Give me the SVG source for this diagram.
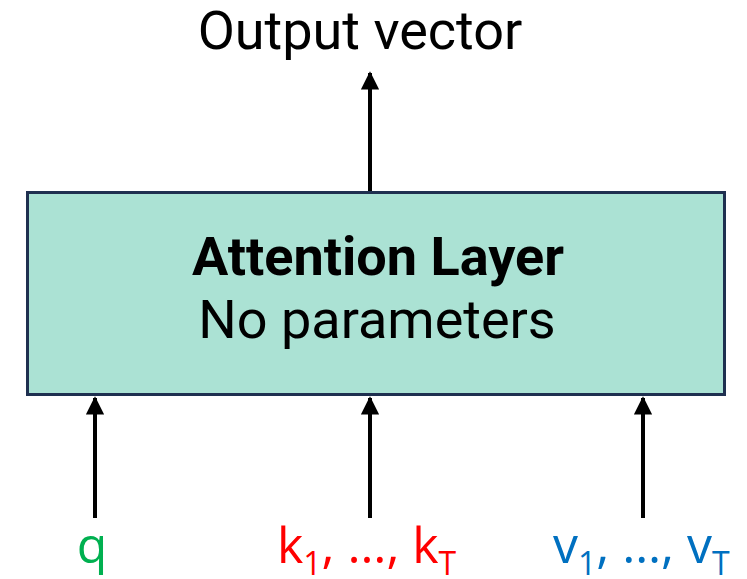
<svg xmlns="http://www.w3.org/2000/svg" width="747" height="579" viewBox="0 0 747 579">
  <defs>
    <marker id="arrowhead" viewBox="0 0 10 10" refX="9" refY="5" markerWidth="4.6" markerHeight="4.6" orient="auto" markerUnits="strokeWidth">
      <path d="M0,0 L10,5 L0,10 z" fill="#000"/>
    </marker>
    <style>
      .label { font-family: Roboto, "Liberation Sans", sans-serif; font-size: 54px; fill: #000; }
      .input { font-family: "Open Sans", "Noto Sans", sans-serif; font-size: 50px; }
      .sub { font-size: 32px; }
      .edge { stroke: #000; stroke-width: 4; fill: none; marker-end: url(#arrowhead); }
    </style>
  </defs>

  <rect width="747" height="579" fill="#fff"/>

  <g id="output-label">
    <text class="label" x="360" y="49" text-anchor="middle">Output vector</text>
  </g>

  <g id="attention-layer">
    <rect x="27.5" y="192.5" width="697" height="202" fill="#ABE2D4" stroke="#1F3050" stroke-width="3"/>
    <text class="label" x="378" y="275" text-anchor="middle" font-weight="bold">Attention Layer</text>
    <text class="label" x="377" y="338" text-anchor="middle">No parameters</text>
  </g>

  <g id="connectors">
    <line class="edge" x1="370" y1="191" x2="370" y2="73"/>
    <line class="edge" x1="95" y1="518" x2="95" y2="398"/>
    <line class="edge" x1="370" y1="518" x2="370" y2="398"/>
    <line class="edge" x1="643" y1="518" x2="643" y2="398"/>
  </g>

  <g id="input-q">
    <text class="input" x="92" y="563" text-anchor="middle" fill="#00B050">q</text>
  </g>
  <g id="input-k">
    <text class="input" x="277" y="563" fill="#FF0000">k<tspan class="sub" dy="12">1</tspan><tspan dy="-12">, …, k</tspan><tspan class="sub" dy="12">T</tspan></text>
  </g>
  <g id="input-v">
    <text class="input" x="553" y="563" fill="#0070C0">v<tspan class="sub" dy="12">1</tspan><tspan dy="-12">, …, v</tspan><tspan class="sub" dy="12">T</tspan></text>
  </g>
</svg>
